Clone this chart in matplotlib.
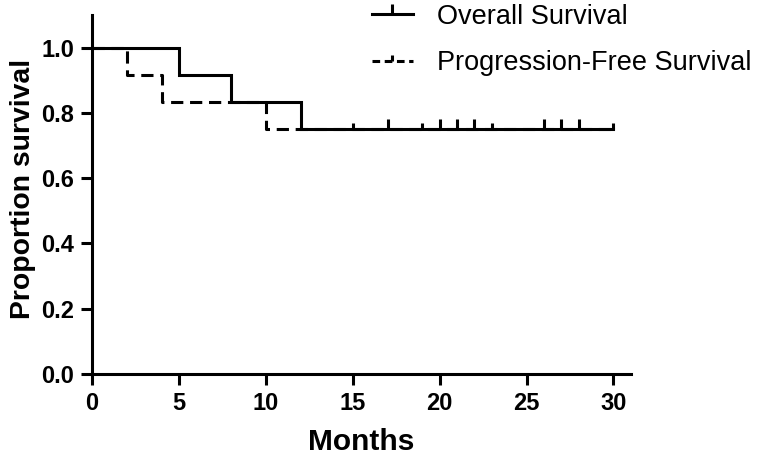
import matplotlib.pyplot as plt
from matplotlib.lines import Line2D

plt.rcParams['font.family'] = ['Liberation Sans', 'DejaVu Sans']

# step curves (month, proportion surviving)
os_times = [0, 5, 8, 12, 30]
os_surv = [1.0, 0.917, 0.833, 0.75, 0.75]
pfs_times = [0, 2, 4, 10, 30]
pfs_surv = [1.0, 0.917, 0.833, 0.75, 0.75]

# censored observations
os_censor = [17, 20, 21, 22, 26, 27, 28]
pfs_censor = [15, 19, 23, 30]
censor_level = 0.75

x_ticks = [0, 5, 10, 15, 20, 25, 30]
y_ticks = [0.0, 0.2, 0.4, 0.6, 0.8, 1.0]

fig = plt.figure(figsize=(7.74, 4.55), dpi=100)
ax = fig.add_axes([0.119, 0.178, 0.696, 0.789])

lw = 2.2
ax.step(os_times, os_surv, where='post', color='black', lw=lw, solid_joinstyle='miter')
ax.step(pfs_times, pfs_surv, where='post', color='black', lw=lw, linestyle=(0, (4, 2.2)))
ax.plot(os_censor, [censor_level] * len(os_censor), linestyle='none', marker=2,
        markersize=7, markeredgewidth=2.2, color='black')
ax.plot(pfs_censor, [censor_level] * len(pfs_censor), linestyle='none', marker=2,
        markersize=4, markeredgewidth=2.2, color='black')

ax.set_xlim(0, 31)
ax.set_ylim(0, 1.1)
ax.set_xticks(x_ticks)
ax.set_yticks(y_ticks)
ax.set_yticklabels(['%.1f' % v for v in y_ticks])
ax.spines['top'].set_visible(False)
ax.spines['right'].set_visible(False)
ax.spines['left'].set_linewidth(lw)
ax.spines['bottom'].set_linewidth(lw)
ax.tick_params(direction='out', length=8, width=lw, labelsize=17, pad=5)
for lab in ax.get_xticklabels() + ax.get_yticklabels():
    lab.set_fontweight('bold')
ax.set_xlabel('Months', fontsize=21.5, fontweight='bold', labelpad=9)
ax.set_ylabel('Proportion survival', fontsize=20.4, fontweight='bold', labelpad=7)
ax.yaxis.set_label_coords(-0.105, 0.515)

handles = [
    Line2D([], [], color='black', lw=lw, marker=2, markersize=7, markeredgewidth=2.2),
    Line2D([], [], color='black', lw=lw, linestyle=(0, (2.5, 1.5)), marker=2, markersize=4,
           markeredgewidth=2.2),
]
leg = fig.legend(handles, ['Overall Survival', 'Progression-Free Survival'],
                 loc='upper left', bbox_to_anchor=(0.449, 1.045), frameon=False,
                 fontsize=19.5, handlelength=1.5, handletextpad=0.9, labelspacing=0.75,
                 numpoints=1)

fig.savefig('out.png', dpi=100)
